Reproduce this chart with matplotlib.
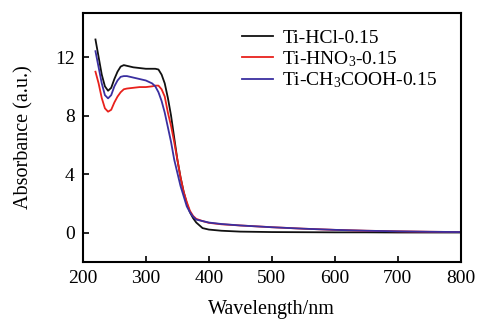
import numpy as np
import matplotlib
matplotlib.use('Agg')
import matplotlib.pyplot as plt

plt.rcParams['font.family'] = ['Liberation Serif', 'DejaVu Serif']
plt.rcParams['mathtext.fontset'] = 'custom'
plt.rcParams['mathtext.rm'] = 'Liberation Serif'
plt.rcParams['mathtext.it'] = 'Liberation Serif:italic'

# Wellenlaenge / nm
wl = [220, 225, 230, 235, 240, 245, 250, 255, 260, 265, 270, 280, 290, 300,
      310, 315, 320, 325, 330, 335, 340, 345, 350, 355, 360, 365, 370, 375,
      380, 390, 400, 420, 450, 500, 550, 600, 650, 700, 750, 800]

a_hcl = [13.2, 12.0, 10.8, 10.0, 9.7, 9.9, 10.5, 11.0, 11.35, 11.45, 11.4,
         11.3, 11.25, 11.2, 11.2, 11.2, 11.15, 10.8, 10.2, 9.2, 8.0, 6.5, 5.0,
         3.8, 2.8, 2.0, 1.4, 1.0, 0.7, 0.32, 0.22, 0.14, 0.08, 0.05, 0.04,
         0.03, 0.03, 0.02, 0.02, 0.02]
a_hno3 = [11.0, 10.2, 9.2, 8.5, 8.27, 8.4, 8.9, 9.3, 9.6, 9.8, 9.85, 9.9,
          9.95, 9.95, 10.0, 10.05, 10.05, 9.8, 9.3, 8.2, 7.3, 6.2, 5.0, 3.8,
          2.8, 2.1, 1.5, 1.15, 0.95, 0.8, 0.68, 0.58, 0.5, 0.38, 0.28, 0.2,
          0.14, 0.1, 0.07, 0.05]
a_hac = [12.4, 11.3, 10.2, 9.4, 9.18, 9.4, 10.0, 10.4, 10.65, 10.7, 10.7,
         10.6, 10.5, 10.4, 10.2, 10.0, 9.6, 9.0, 8.2, 7.2, 6.2, 5.0, 4.1, 3.2,
         2.5, 1.8, 1.4, 1.1, 0.9, 0.8, 0.7, 0.6, 0.5, 0.38, 0.28, 0.2, 0.14,
         0.1, 0.07, 0.05]

labels = ['Ti-HCl-0.15', 'Ti-HNO$_3$-0.15', 'Ti-CH$_3$COOH-0.15']
farben = ['#111111', '#e8211c', '#3a2fa0']

fig = plt.figure(figsize=(4.79, 3.2), dpi=100)
ax = fig.add_axes([0.173, 0.181, 0.789, 0.778])

for y, lab, c in zip([a_hcl, a_hno3, a_hac], labels, farben):
    ax.plot(wl, y, color=c, lw=1.3, label=lab)

ax.set_xlim(200, 800)
ax.set_ylim(-2, 15)
ax.set_xticks([200, 300, 400, 500, 600, 700, 800])
ax.set_yticks([0, 4, 8, 12])
ax.tick_params(direction='in', length=4, width=1.2, labelsize=14, pad=6)
for s in ax.spines.values():
    s.set_linewidth(1.5)

ax.set_xlabel('Wavelength/nm', fontsize=14.5, labelpad=9)
ax.set_ylabel('Absorbance (a.u.)', fontsize=14.5, labelpad=15)

ax.legend(loc='upper left', bbox_to_anchor=(0.42, 0.935), frameon=False,
          fontsize=14, handlelength=1.6, handletextpad=0.5,
          labelspacing=0.1, borderaxespad=0, borderpad=0)

plt.savefig('out.png')
